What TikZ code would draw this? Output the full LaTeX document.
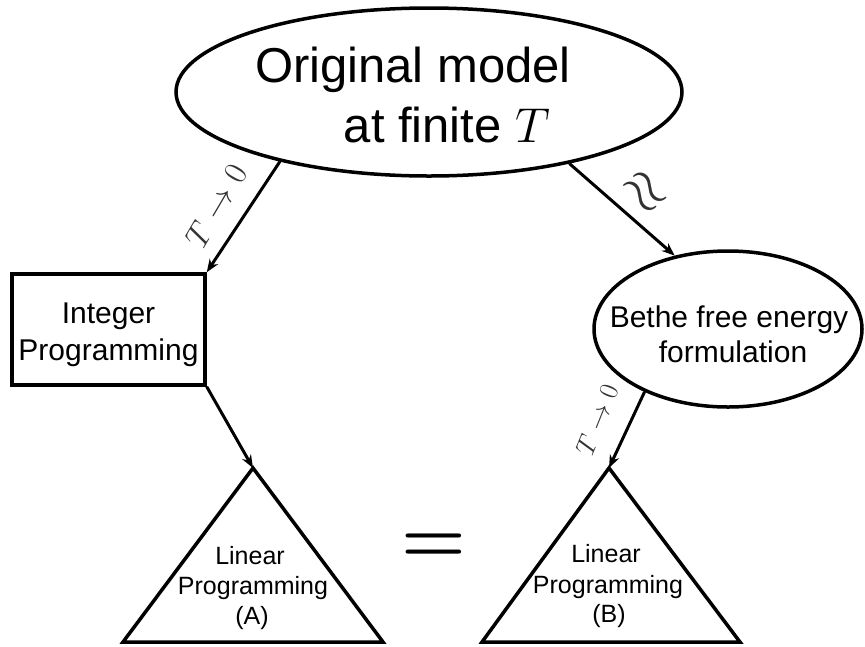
\RequirePackage{fix-cm}
\documentclass[tikz,border=0pt]{standalone}
\usepackage{fontspec}
\setmainfont{Liberation Sans}
\newfontfamily\lmfont{Latin Modern Roman}
\usetikzlibrary{shapes.geometric,arrows.meta}
\begin{document}
\begin{tikzpicture}[x=1pt,y=-1pt,
  shapeline/.style={draw=black,line width=3.5pt},
  conn/.style={draw=black,line width=3pt,-{Stealth[length=13pt,width=10pt]}},
  txt/.style={inner sep=0pt,anchor=base},
  lab/.style={inner sep=0pt,text=black!80}]
\useasboundingbox (0,0) rectangle (865,646);

% shapes
\node[shapeline,ellipse,minimum width=506pt,minimum height=168pt,inner sep=0pt] (top) at (429,92) {};
\node[shapeline,rectangle,minimum width=193pt,minimum height=111pt,inner sep=0pt] (ip) at (108.5,329.5) {};
\node[shapeline,ellipse,minimum width=268pt,minimum height=156pt,inner sep=0pt] (bethe) at (728,329) {};
\coordinate (apexA) at (253,468);
\coordinate (apexB) at (609,468);
\draw[shapeline,line join=miter] (apexA) -- (383,642) -- (123,642) -- cycle;
\draw[shapeline,line join=miter] (apexB) -- (740,642) -- (482,642) -- cycle;

% texts
\node[txt,font=\fontsize{49}{58}\selectfont] (t1) at (413,82) {Original model};
\node[txt,font=\fontsize{49}{58}\selectfont] (t2) at (447,142) {at finite $T$};
\node[txt,font=\fontsize{30}{36}\selectfont] (ip1) at (108.5,323) {Integer};
\node[txt,font=\fontsize{30}{36}\selectfont] (ip2) at (108.5,360) {Programming};
\node[txt,font=\fontsize{30}{35}\selectfont] (b1) at (729,327) {Bethe free energy};
\node[txt,font=\fontsize{30}{35}\selectfont] (b2) at (733,362) {formulation};
\node[txt,font=\fontsize{25}{30}\selectfont] (la1) at (250,564) {Linear};
\node[txt,font=\fontsize{25}{30}\selectfont] (la2) at (253,594) {Programming};
\node[txt,font=\fontsize{25}{30}\selectfont] (la3) at (252,624) {(A)};
\node[txt,font=\fontsize{25}{30}\selectfont] (lb1) at (606,562) {Linear};
\node[txt,font=\fontsize{25}{30}\selectfont] (lb2) at (608,593) {Programming};
\node[txt,font=\fontsize{25}{30}\selectfont] (lb3) at (609,622) {(B)};
\node[txt,font=\lmfont\bfseries\fontsize{74}{80}\selectfont] (eq) at (434,562) {=};

% connectors
\draw[conn] (top.205) -- (ip.north east);
\draw[conn] (ip.south east) -- (apexA);
\draw[conn] (top.333) -- (bethe.126);
\draw[conn] (bethe.217) -- (apexB);

% labels
\node[lab,rotate=59.6,font=\fontsize{33}{34}\selectfont] (l1) at (216,206) {$T\rightarrow 0$};
\node[lab,rotate=-48,font=\fontsize{58}{58}\selectfont] (l2) at (644,193) {$\approx$};
\node[lab,rotate=68,font=\fontsize{27}{28}\selectfont] (l3) at (597,420) {$T\rightarrow 0$};
\end{tikzpicture}
\end{document}
